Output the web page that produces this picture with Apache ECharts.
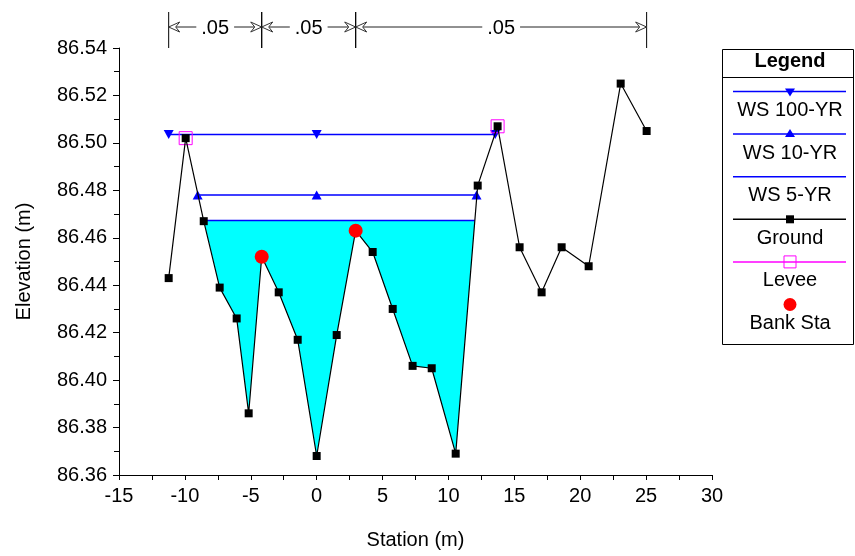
<!DOCTYPE html>
<html>
<head>
<meta charset="utf-8">
<script src="https://cdn.jsdelivr.net/npm/echarts@6/dist/echarts.min.js"></script>
<style>
html,body{margin:0;padding:0;background:#fff;}
#chart{width:855px;height:556px;}
</style>
</head>
<body>
<div id="chart"></div>
<script>
// ---- data ----
const stations = [-11.23,-9.94,-8.57,-7.36,-6.07,-5.16,-4.17,-2.88,-1.44,0.0,1.52,2.96,4.25,5.77,7.28,8.73,10.55,12.22,13.73,15.4,17.07,18.59,20.64,23.07,25.04];
const groundElev = [86.443,86.502,86.467,86.439,86.426,86.386,86.452,86.437,86.417,86.368,86.419,86.463,86.454,86.430,86.406,86.405,86.369,86.482,86.507,86.456,86.437,86.456,86.448,86.525,86.505];
const leveeStations = [-9.94, 13.73];
const leveeElev = [86.502, 86.507];
const bankStations = [-4.17, 2.96];
const bankElev = [86.452, 86.463];
const ws100Stations = [-11.23, 0, 13.55];
const ws100Level = 86.5035;
const ws10Stations = [-9.03, 0, 12.13];
const ws10Level = 86.478;
const ws5Stations = [-8.57, 12.0];
const ws5Level = 86.4673;
const nStations = [-11.23, -4.17, 2.96, 25.04];
const nValues = ['.05', '.05', '.05'];
const xTicks = {min: -15, max: 30, interval: 5};
const yTicks = {min: 86.36, max: 86.54, interval: 0.02};
const seriesNames = ['WS 100-YR', 'WS 10-YR', 'WS 5-YR', 'Ground', 'Levee', 'Bank Sta'];

const FONT = 'Liberation Sans, Arial, sans-serif';
const zip = (xs, ys) => xs.map((x, i) => [x, ys[i]]);
const flat = (xs, v) => xs.map(x => [x, v]);

const chart = echarts.init(document.getElementById('chart'), null, {renderer: 'canvas'});

// water fill polygon (WS 5-YR over ground)
function fillRender(params, api) {
  const pts = [api.coord([ws5Stations[0], ws5Level])];
  for (let i = 0; i < stations.length; i++) {
    if (stations[i] > ws5Stations[0] && stations[i] < ws5Stations[1]) {
      pts.push(api.coord([stations[i], groundElev[i]]));
    }
  }
  pts.push(api.coord([ws5Stations[1], ws5Level]));
  return {type: 'polygon', shape: {points: pts}, style: {fill: '#00ffff', stroke: null}};
}

// Manning's n annotations above the plot
function nRender(params, api) {
  const x0 = api.coord([api.value(0), yTicks.max]);
  const x1 = api.coord([api.value(1), yTicks.max]);
  const top = x0[1];
  const yA = top - 21, yT = top - 36;
  const stroke = {stroke: '#000', lineWidth: 1};
  const gray = {stroke: '#333', lineWidth: 1, fill: '#fff'};
  const a = x0[0], b = x1[0];
  return {
    type: 'group',
    children: [
      {type: 'line', shape: {x1: a, y1: yT, x2: a, y2: top}, style: stroke},
      {type: 'line', shape: {x1: b, y1: yT, x2: b, y2: top}, style: stroke},
      {type: 'line', shape: {x1: a, y1: yA, x2: b, y2: yA}, style: {stroke: '#222', lineWidth: 1}},
      {type: 'polygon', shape: {points: [[a, yA], [a + 11, yA - 5], [a + 7, yA], [a + 11, yA + 5]]}, style: gray},
      {type: 'polygon', shape: {points: [[b, yA], [b - 11, yA - 5], [b - 7, yA], [b - 11, yA + 5]]}, style: gray},
      {type: 'text', style: {text: nValues[params.dataIndex], x: (a + b) / 2, y: yA + 1, align: 'center', verticalAlign: 'middle',
        font: '20px ' + FONT, fill: '#000', backgroundColor: '#fff', padding: [0, 5]}}
    ]
  };
}

// legend drawn as graphic
const LX = 722.5, LY = 49.5, LW = 131, LH = 295, LC = 790;
const legendEls = [
  {type: 'rect', shape: {x: LX, y: LY, width: LW, height: LH}, style: {fill: '#fff', stroke: '#000', lineWidth: 1}},
  {type: 'line', shape: {x1: LX, y1: 77.5, x2: LX + LW, y2: 77.5}, style: {stroke: '#000', lineWidth: 1}},
  {type: 'text', style: {text: 'Legend', x: LC, y: 61, align: 'center', verticalAlign: 'middle', font: 'bold 20px ' + FONT, fill: '#000'}}
];
const legendSpec = [
  {line: '#0000ff', sym: 'down', color: '#0000ff'},
  {line: '#0000ff', sym: 'up', color: '#0000ff'},
  {line: '#0000ff', sym: null},
  {line: '#000000', sym: 'square', color: '#000'},
  {line: '#ff00ff', sym: 'open', color: '#ff00ff'},
  {line: null, sym: 'circle', color: '#ff0000'}
];
legendSpec.forEach((s, i) => {
  const ly = 91.5 + i * 42.6;
  if (s.line) legendEls.push({type: 'line', shape: {x1: 733, y1: ly, x2: 846, y2: ly}, style: {stroke: s.line, lineWidth: 1.5}});
  if (s.sym === 'down') legendEls.push({type: 'polygon', shape: {points: [[LC - 5, ly - 3], [LC + 5, ly - 3], [LC, ly + 5]]}, style: {fill: s.color}});
  if (s.sym === 'up') legendEls.push({type: 'polygon', shape: {points: [[LC - 5, ly + 3], [LC + 5, ly + 3], [LC, ly - 5]]}, style: {fill: s.color}});
  if (s.sym === 'square') legendEls.push({type: 'rect', shape: {x: LC - 4, y: ly - 4, width: 8, height: 8}, style: {fill: '#000'}});
  if (s.sym === 'open') legendEls.push({type: 'rect', shape: {x: LC - 6, y: ly - 6, width: 12, height: 12}, style: {fill: 'none', stroke: s.color, lineWidth: 1}});
  if (s.sym === 'circle') legendEls.push({type: 'circle', shape: {cx: LC, cy: ly, r: 6.5}, style: {fill: s.color}});
  legendEls.push({type: 'text', style: {text: seriesNames[i], x: LC, y: ly + 19, align: 'center', verticalAlign: 'middle', font: '20px ' + FONT, fill: '#000'}});
});

const option = {
  backgroundColor: '#fff',
  animation: false,
  textStyle: {fontFamily: FONT},
  grid: {left: 119, right: 143, top: 48, bottom: 81, containLabel: false},
  xAxis: {
    type: 'value', min: xTicks.min, max: xTicks.max, interval: xTicks.interval,
    name: 'Station (m)', nameLocation: 'middle', nameGap: 55,
    nameTextStyle: {fontSize: 20, color: '#000', fontFamily: FONT},
    axisLine: {onZero: false, lineStyle: {color: '#000', width: 1}},
    axisTick: {show: true, length: 5, lineStyle: {color: '#000'}},
    minorTick: {show: true, splitNumber: 2, length: 5, lineStyle: {color: '#000'}},
    axisLabel: {fontSize: 20, color: '#000', margin: 11, fontFamily: FONT},
    splitLine: {show: false}
  },
  yAxis: {
    type: 'value', min: yTicks.min, max: yTicks.max, interval: yTicks.interval,
    name: 'Elevation (m)', nameLocation: 'middle', nameGap: 85, nameRotate: 90,
    nameTextStyle: {fontSize: 20, color: '#000', fontFamily: FONT},
    axisLine: {show: true, onZero: false, lineStyle: {color: '#000', width: 1}},
    axisTick: {show: true, length: 6, lineStyle: {color: '#000'}},
    minorTick: {show: true, splitNumber: 2, length: 5, lineStyle: {color: '#000'}},
    axisLabel: {fontSize: 20, color: '#000', margin: 12, fontFamily: FONT, formatter: v => v.toFixed(2)},
    splitLine: {show: false}
  },
  graphic: legendEls,
  series: [
    {type: 'custom', name: 'fill', renderItem: fillRender, data: [[ws5Stations[0], ws5Level]], silent: true, z: 1},
    {type: 'custom', name: 'n', renderItem: nRender, data: nStations.slice(0, -1).map((s, i) => [s, nStations[i + 1]]),
      encode: {x: [0, 1]}, clip: false, silent: true, z: 1},
    {type: 'line', name: seriesNames[2], data: flat(ws5Stations, ws5Level), showSymbol: false, symbol: 'none',
      lineStyle: {color: '#0000ff', width: 1.5}, z: 2},
    {type: 'line', name: seriesNames[1], data: flat(ws10Stations, ws10Level), symbol: 'triangle', symbolSize: [10, 9],
      itemStyle: {color: '#0000ff', opacity: 1}, lineStyle: {color: '#0000ff', width: 1.5}, z: 2},
    {type: 'line', name: seriesNames[0], data: flat(ws100Stations, ws100Level), symbol: 'triangle', symbolRotate: 180, symbolSize: [10, 9],
      itemStyle: {color: '#0000ff', opacity: 1}, lineStyle: {color: '#0000ff', width: 1.5}, z: 2},
    {type: 'scatter', name: seriesNames[4], data: zip(leveeStations, leveeElev), symbol: 'rect', symbolSize: 13,
      itemStyle: {color: 'rgba(0,0,0,0)', borderColor: '#ff00ff', borderWidth: 1, opacity: 1}, z: 3},
    {type: 'line', name: seriesNames[3], data: zip(stations, groundElev), symbol: 'rect',
      symbolSize: (v) => bankStations.indexOf(v[0]) >= 0 ? 0 : 8,
      itemStyle: {color: '#000', opacity: 1}, lineStyle: {color: '#000', width: 1.2}, z: 4},
    {type: 'scatter', name: seriesNames[5], data: zip(bankStations, bankElev), symbol: 'circle', symbolSize: 14,
      itemStyle: {color: '#ff0000', opacity: 1}, z: 5}
  ]
};
chart.setOption(option);
</script>
</body>
</html>
